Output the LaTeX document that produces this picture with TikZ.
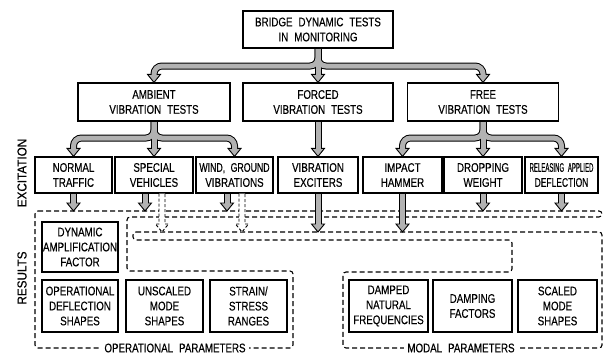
\documentclass[tikz,border=0pt]{standalone}
\usepackage{fontspec}
\setmainfont{Liberation Sans}[FakeStretch=0.78,FakeBold=0.3]
\newfontfamily\sidefont{Liberation Sans}[FakeStretch=0.9,FakeBold=0.3]
\usepackage{tikz}
\usetikzlibrary{calc}
\definecolor{arrowgray}{gray}{0.7}
\newcommand\boxfont{\fontsize{12.5}{15}\selectfont\spaceskip 6pt plus 1pt\relax}

% fat grey arrows, drawn twice: black outline first, grey filling on top
\newcommand\fatlinks[1]{%
  \foreach \c in {amb,free} \draw[#1] (top.south) -- (bar1) -| (\c.north);
  \draw[#1] (top.south) -- (forced.north);
  \foreach \c in {normal,wind} \draw[#1] (amb.south) -- (bar2) -| (\c.north);
  \draw[#1] (amb.south) -- (special.north);
  \foreach \c in {impact,release} \draw[#1] (free.south) -- (bar3) -| (\c.north);
  \draw[#1] (free.south) -- (drop.north);
  \draw[#1] (forced.south) -- (forced.south |- vibex.north);
  \foreach \c in {normal.south,sv,wg,drop.south,release.south}
    \draw[#1] (\c) -- (\c |- optop);
  \foreach \c in {vibex.south,impact.south}
    \draw[#1] (\c) -- (\c |- modtop);
}

\begin{document}
\begin{tikzpicture}[x=1pt,y=-1pt,font=\boxfont,
    box/.style={draw,line width=1.2pt,align=center,inner sep=0pt,
      minimum width=#1,minimum height=36pt},
    region/.style={draw,line width=1.1pt,dash pattern=on 5pt off 3pt,rounded corners=3pt},
    fatout/.style={line width=7pt,rounded corners=8pt,shorten >=8pt},
    fatin/.style={arrowgray,line width=5pt,rounded corners=8pt,shorten >=7pt,shorten <=.6pt},
    ghost/.style={fill=white,line width=.9pt,dash pattern=on 3pt off 2pt},
    fathead/.pic={\draw[fill=arrowgray,line width=.9pt,line join=miter]
      (-6.5,-8)--(0,0)--(6.5,-8)--cycle;},
    side/.style={rotate=90,font=\sidefont\fontsize{13}{15}\selectfont},
    tag/.style={fill=white,inner xsep=3pt,inner ysep=1pt}]
  \useasboundingbox[fill=white] (0,0) rectangle (605,356);

  % tests
  \node[box=150pt,minimum height=37pt] (top) at (318,29.5) {BRIDGE DYNAMIC TESTS\\IN MONITORING};
  \foreach \n/\x/\w/\t in {amb/154/152/AMBIENT,forced/318/150/FORCED,free/483/151/FREE}
    \node[box=\w pt,minimum height=38pt] (\n) at (\x,102) {\t\\VIBRATION TESTS};
  \foreach \n/\x/\w/\t in {normal/73.5/77/{NORMAL\\TRAFFIC},special/154/78/{SPECIAL\\VEHICLES},
      wind/234.5/77/{\scalebox{0.9}[1]{WIND, GROUND}\\VIBRATIONS},vibex/318/80/{VIBRATION\\EXCITERS},
      impact/402.5/79/{IMPACT\\HAMMER},drop/483/78/{DROPPING\\WEIGHT}}
    \node[box=\w pt] (\n) at (\x,175) {\t};
  \node[box=73pt] (release) at (561.5,175)
    {\scalebox{0.62}[1]{RELEASING APPLIED}\\\scalebox{0.87}[1]{DEFLECTION}};

  % results
  \node[box=76pt,minimum height=50pt] (daf) at (80,247) {DYNAMIC\\AMPLIFICATION\\FACTOR};
  \node[box=76pt,minimum height=52pt] (ods) at (80,306) {OPERATIONAL\\DEFLECTION\\SHAPES};
  \node[box=77pt,minimum height=52pt] (uns) at (164.5,306) {UNSCALED\\MODE\\SHAPES};
  \node[box=77pt,minimum height=52pt] (ssr) at (248.5,306) {STRAIN/\\STRESS\\RANGES};
  \node[box=79pt,minimum height=52pt] (dnf) at (388.5,306) {DAMPED\\NATURAL\\FREQUENCIES};
  \node[box=79pt,minimum height=52pt] (dmp) at (472.5,306) {DAMPING\\FACTORS};
  \node[box=79pt,minimum height=52pt] (sms) at (557.5,306) {SCALED\\MODE\\SHAPES};

  \node[side] (excit) at (22,173) {EXCITATION};
  \node[side] (res) at (22,278) {RESULTS};

  \coordinate (bar1) at (318,66);
  \coordinate (bar2) at (154,138);
  \coordinate (bar3) at (483,138);
  \coordinate (optop) at (0,211);
  \coordinate (modtop) at (0,232);
  \coordinate (sv) at ([xshift=-9pt]special.south);
  \coordinate (wg) at ([xshift=-7.5pt]wind.south);
  \coordinate (gs) at ([xshift=8pt]special.south);
  \coordinate (gw) at ([xshift=7.5pt]wind.south);

  % operational and modal groups
  \draw[region] (35,211) -- (602,211) -- (602,217) -- (127,217) -- (127,271)
    -- (293,271) -- (293,348) -- (35,348) -- cycle;
  \draw[region] (133,232) -- (602,232) -- (602,348) -- (343,348) -- (343,272)
    -- (512,272) -- (512,240) -- (133,240) -- cycle;
  \node[tag] (oplabel) at (175,348) {OPERATIONAL PARAMETERS};
  \node[tag] (modlabel) at (461,348) {MODAL PARAMETERS};

  \foreach \c in {gs,gw}
    \draw[ghost] ($(\c)+(-3,0)$) -- ($(\c |- modtop)+(-3,-8)$) -- ($(\c |- modtop)+(-6.5,-8)$)
      -- (\c |- modtop) -- ($(\c |- modtop)+(6.5,-8)$) -- ($(\c |- modtop)+(3,-8)$) -- ($(\c)+(3,0)$);

  \fatlinks{fatout}
  \foreach \p in {amb.north,forced.north,free.north,normal.north,special.north,wind.north,
      vibex.north,impact.north,drop.north,release.north,normal.south |- optop,sv |- optop,
      wg |- optop,drop.south |- optop,release.south |- optop,vibex.south |- modtop,
      impact.south |- modtop}
    \pic at (\p) {fathead};
  \fatlinks{fatin}
\end{tikzpicture}
\end{document}
